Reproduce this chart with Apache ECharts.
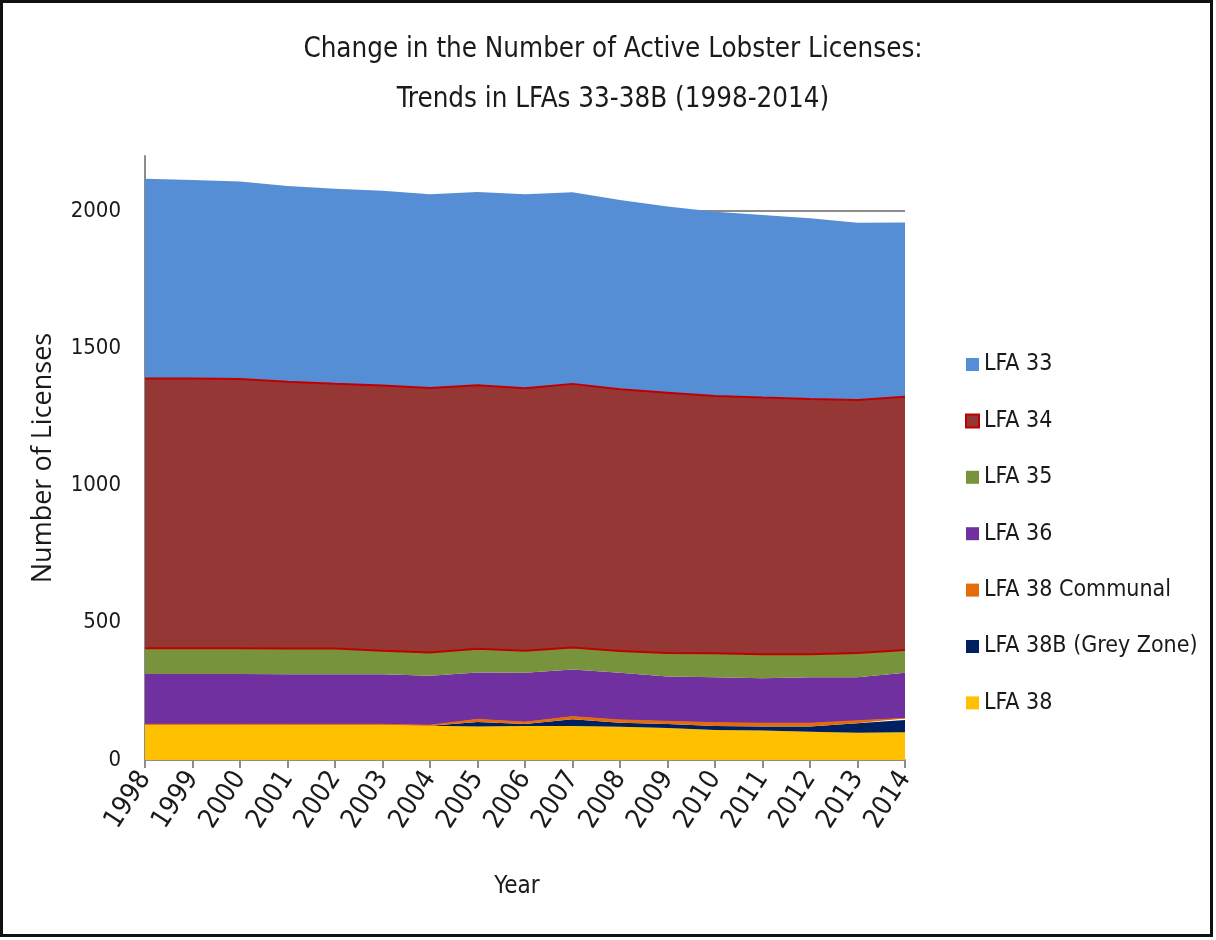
<!DOCTYPE html>
<html>
<head>
<meta charset="utf-8">
<script src="https://cdn.jsdelivr.net/npm/echarts@6/dist/echarts.min.js"></script>
<style>
  html, body { margin: 0; padding: 0; background: #fff; }
  #chart { position: absolute; left: 0; top: 0; width: 1216px; height: 940px; }
  #frame { position: absolute; left: 0; top: 0; width: 1213px; height: 937px;
           border: 3px solid #111; box-sizing: border-box; pointer-events: none; }
</style>
</head>
<body>
<div id="chart"></div>
<div id="frame"></div>
<script>
// Active lobster licences per fishing area, 1998-2014
const years = ['1998','1999','2000','2001','2002','2003','2004','2005','2006','2007','2008','2009','2010','2011','2012','2013','2014'];

const lfa38         = [130, 130, 130, 128, 128, 128, 125, 122, 124, 124, 121, 117, 109, 107, 103,  99, 101];
const lfa38bGrey    = [  0,   0,   0,   0,   0,   0,   0,  16,   7,  24,  15,  14,  15,  15,  19,  35,  45];
const lfa38Communal = [  0,   0,   0,   2,   2,   2,   2,  10,   7,  10,  10,  10,  12,  12,  12,   9,   6];
const lfa36         = [183, 183, 183, 182, 182, 182, 180, 171, 180, 172, 172, 163, 165, 164, 167, 158, 166];
const lfa35         = [ 94,  94,  94,  94,  94,  86,  85,  86,  80,  80,  79,  86,  88,  87,  84,  89,  83];
const lfa34         = [983, 983, 981, 972, 964, 966, 963, 960, 956, 960, 953, 948, 937, 935, 930, 921, 922];
const lfa33         = [727, 723, 719, 713, 711, 709, 706, 704, 707, 698, 690, 678, 671, 665, 658, 646, 635];

const yTicks = [0, 500, 1000, 1500, 2000];

const FONT = '"Liberation Sans Narrow", "DejaVu Sans Condensed", "Open Sans", sans-serif';
const FONT_WIDE = '"Open Sans", "Noto Sans", sans-serif';
const TEXT = '#1a1a1a';

function layer(name, data, color, extra) {
  return Object.assign({
    name: name,
    type: 'line',
    stack: 'licences',
    data: data,
    symbol: 'none',
    color: color,
    lineStyle: { width: 0, color: color },
    areaStyle: { color: color, opacity: 1 },
    emphasis: { disabled: true }
  }, extra || {});
}

const series = [
  layer('LFA 38', lfa38, '#FFC000'),
  layer('LFA 38B (Grey Zone)', lfa38bGrey, '#002060'),
  layer('LFA 38 Communal', lfa38Communal, '#E46C0A', { lineStyle: { width: 1, color: '#E46C0A' } }),
  layer('LFA 36', lfa36, '#7030A0'),
  // the red rule along the top of this band outlines the bottom of LFA 34
  layer('LFA 35', lfa35, '#77933C', { z: 4, lineStyle: { width: 2, color: '#C00000' } }),
  layer('LFA 34', lfa34, '#953735', { z: 3, lineStyle: { width: 2, color: '#C00000' } }),
  layer('LFA 33', lfa33, '#558ED5')
];

const legendItems = [
  { name: 'LFA 33', itemStyle: { color: '#558ED5', borderWidth: 0 } },
  { name: 'LFA 34', itemStyle: { color: '#953735', borderColor: '#C00000', borderWidth: 2 } },
  { name: 'LFA 35', itemStyle: { color: '#77933C', borderWidth: 0 } },
  { name: 'LFA 36', itemStyle: { color: '#7030A0', borderWidth: 0 } },
  { name: 'LFA 38 Communal', itemStyle: { color: '#E46C0A', borderWidth: 0 } },
  { name: 'LFA 38B (Grey Zone)', itemStyle: { color: '#002060', borderWidth: 0 } },
  { name: 'LFA 38', itemStyle: { color: '#FFC000', borderWidth: 0 } }
];

const chart = echarts.init(document.getElementById('chart'), null, { renderer: 'canvas' });
chart.setOption({
  animation: false,
  backgroundColor: '#fff',
  title: {
    text: 'Change in the Number of Active Lobster Licenses:\nTrends in LFAs 33-38B (1998-2014)',
    left: 608,
    top: 20,
    textAlign: 'center',
    textStyle: { fontFamily: FONT, fontSize: 27.5, fontWeight: 'normal', color: TEXT, lineHeight: 50 }
  },
  legend: {
    data: legendItems,
    orient: 'vertical',
    left: 960,
    top: 348,
    icon: 'rect',
    itemWidth: 13,
    itemHeight: 13,
    itemGap: 33.4,
    textStyle: { fontFamily: FONT, fontSize: 23, color: TEXT, padding: [0, 0, 0, 0] },
    selectedMode: false
  },
  grid: { left: 145, right: 311, top: 156, bottom: 180, containLabel: false },
  xAxis: {
    type: 'category',
    data: years,
    boundaryGap: false,
    name: 'Year',
    nameLocation: 'middle',
    nameGap: 115,
    nameTextStyle: { fontFamily: FONT, fontSize: 24, color: TEXT, padding: [0, 16, 0, 0] },
    axisLine: { lineStyle: { color: '#8c8c8c', width: 2 } },
    axisTick: { show: true, length: 8, lineStyle: { color: '#8c8c8c', width: 2 } },
    axisLabel: { rotate: 57, margin: 14, fontFamily: FONT, fontSize: 27, color: TEXT }
  },
  yAxis: {
    type: 'value',
    min: 0,
    max: 2200,
    interval: 500,
    name: 'Number of Licenses',
    nameLocation: 'middle',
    nameGap: 88,
    nameRotate: 90,
    nameTextStyle: { fontFamily: FONT_WIDE, fontSize: 27, color: TEXT },
    axisLine: { show: true, lineStyle: { color: '#8c8c8c', width: 2 } },
    axisTick: { show: false },
    axisLabel: {
      margin: 24, fontFamily: FONT, fontSize: 22, color: TEXT,
      showMaxLabel: false,
      formatter: v => (yTicks.indexOf(v) >= 0 ? String(v) : '')
    },
    splitLine: { show: true, showMaxLine: false, lineStyle: { color: '#8c8c8c', width: 2 } }
  },
  series: series
});
</script>
</body>
</html>
